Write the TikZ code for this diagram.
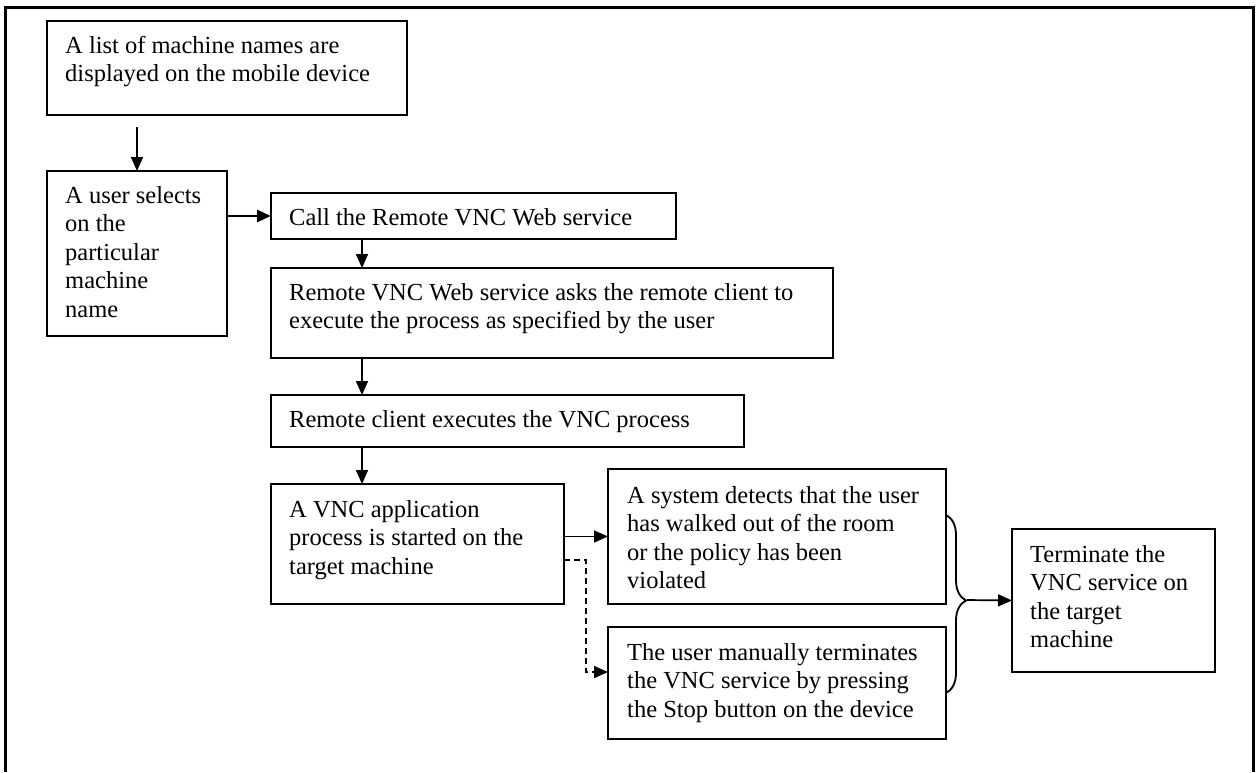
\documentclass[tikz,border=0pt]{standalone}
\usepackage{fontspec}
\setmainfont{Liberation Serif}
\usetikzlibrary{arrows.meta,decorations.pathreplacing,calc}
\newcommand\fs{\fontsize{24.5}{28.5}\selectfont}
\begin{document}
\begin{tikzpicture}[x=1pt,y=-1pt,
  box/.style={draw, line width=1.7pt, inner sep=0pt, outer sep=0pt, anchor=north west},
  lbl/.style={anchor=north west, align=left, inner sep=0pt, font=\fs},
  arr/.style={line width=1.7pt, -{Triangle[length=14pt,width=12pt]}},
]
\useasboundingbox (0,0) rectangle (1256,772);
% frame
\draw[line width=3pt] (5,772) -- (5,7) -- (1253,7) -- (1253,772);

% boxes
\node[box, minimum width=360pt, minimum height=94pt]  (b1) at (47,21) {};
\node[box, minimum width=180pt, minimum height=165pt] (b2) at (47,171) {};
\node[box, minimum width=405pt, minimum height=46pt]  (b3) at (271,193) {};
\node[box, minimum width=562pt, minimum height=90pt]  (b4) at (271,268) {};
\node[box, minimum width=473pt, minimum height=52pt]  (b5) at (271,395) {};
\node[box, minimum width=293pt, minimum height=120pt] (b6) at (271,484) {};
\node[box, minimum width=338pt, minimum height=135pt] (b7) at (608,469) {};
\node[box, minimum width=338pt, minimum height=112pt] (b8) at (608,627) {};
\node[box, minimum width=203pt, minimum height=143pt] (b9) at (1012,529) {};

% texts
\node[lbl] (t1) at (65,33)   {\strut A list of machine names are\\displayed on the mobile device};
\node[lbl] (t2) at (65,183)  {\strut A user selects\\on the\\particular\\machine\\name};
\node[lbl] (t3) at (289,205) {\strut Call the Remote VNC Web service};
\node[lbl] (t4) at (289,280) {\strut Remote VNC Web service asks the remote client to\\execute the process as specified by the user};
\node[lbl] (t5) at (289,407) {\strut Remote client executes the VNC process};
\node[lbl] (t6) at (289,497) {\strut A VNC application\\process is started on the\\target machine};
\node[lbl] (t7) at (627,483) {\strut A system detects that the user\\has walked out of the room\\or the policy has been\\violated};
\node[lbl] (t8) at (627,640) {\strut The user manually terminates\\the VNC service by pressing\\the Stop button on the device};
\node[lbl] (t9) at (1030,542) {\strut Terminate the\\VNC service on\\the target\\machine};

% connectors
\draw[arr] ($(b1.south west)+(90,12)$) -- (b2.north);
\draw[arr, line width=2.8pt] (b2.east |- b3.west) -- (b3.west);
\draw[arr] ($(b3.south west)+(91,0)$) -- ($(b4.north west)+(91,0)$);
\draw[arr] ($(b4.south west)+(91,0)$) -- ($(b5.north west)+(91,0)$);
\draw[arr] ($(b5.south west)+(91,0)$) -- ($(b6.north west)+(91,0)$);
\draw[arr] (b6.east |- b7.west) -- (b7.west);
\coordinate (d1) at ($(b8.west)+(-22,-11)$);
\draw[arr, line width=1.4pt, dash pattern=on 6pt off 4pt] ($(b6.east)+(0,16)$) -| (d1) -- ($(b8.west)+(0,-11)$);

% brace
\draw[line width=1.8pt, decorate, decoration={brace, amplitude=20pt, aspect=0.48}]
  ($(b7.north east)+(0,46)$) -- ($(b8.south east)+(0,-46)$);
\coordinate (tip) at (967,600);
\draw[arr] (tip) -- (b9.west);
\end{tikzpicture}
\end{document}
